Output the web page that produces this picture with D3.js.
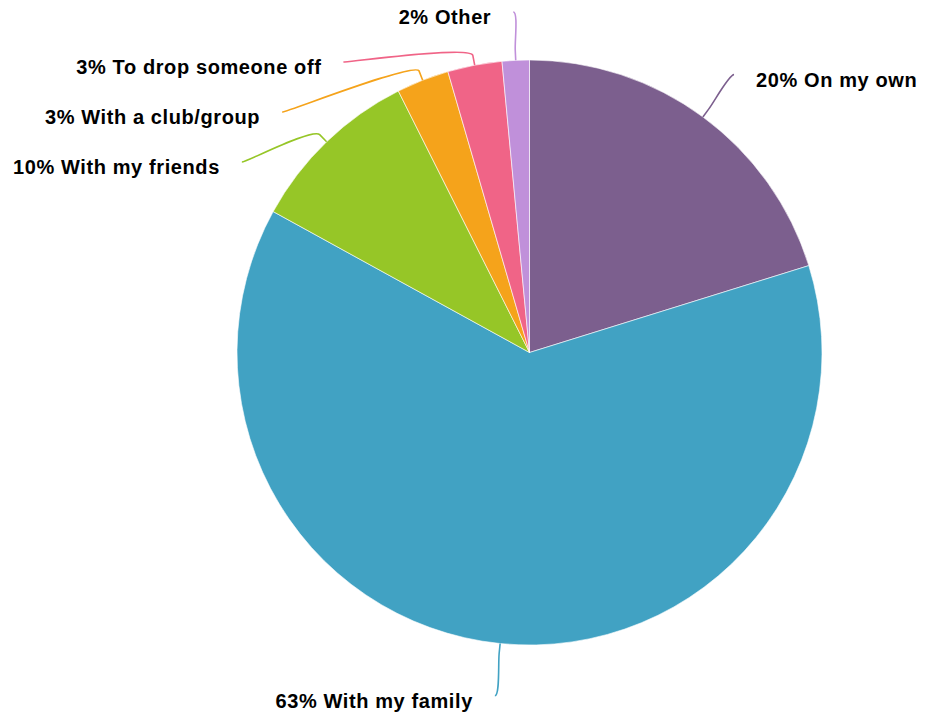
<!DOCTYPE html>
<html>
<head>
<meta charset="utf-8">
<script src="https://cdn.jsdelivr.net/npm/d3@7"></script>
<style>
  html, body { margin: 0; padding: 0; background: #fff; }
  svg { display: block; }
  .slice-label { font-family: "Liberation Sans", Arial, Helvetica, sans-serif; font-weight: bold; font-size: 20px; letter-spacing: 0.6px; fill: #000; }
</style>
</head>
<body>
<svg id="chart" width="926" height="712"></svg>
<script>
const categories = ['On my own', 'With my family', 'With my friends', 'With a club/group', 'To drop someone off', 'Other'];
const shares = [20.2, 62.8, 9.6, 2.9, 3.0, 1.5];
const colors = ['#7c5f8e', '#41a2c3', '#96c627', '#f5a31b', '#f06487', '#c090da'];

const WIDTH = 926;
const HEIGHT = 712;
const CX = 529.5;
const CY = 352.5;
const RADIUS = 292.5;
const LABEL_RADIUS = 345;
const BREAK_OFFSET = 10;
const LABEL_SPACING = 50;
const LABEL_TOP = 12;
const TEXT_GAP = 22;

const data = categories.map((name, i) => ({ name, value: shares[i], color: colors[i] }));

const svg = d3.select('#chart');
const g = svg.append('g').attr('transform', `translate(${CX},${CY})`);

const pie = d3.pie().sort(null).value((d) => d.value);
const arcs = pie(data);
const arc = d3.arc().innerRadius(0).outerRadius(RADIUS);

g.selectAll('path.slice')
  .data(arcs)
  .join('path')
  .attr('class', 'slice')
  .attr('d', arc)
  .attr('fill', (d) => d.data.color)
  .attr('stroke', '#fff')
  .attr('stroke-width', 0.6);

// point at radius r along angle a (d3 angle: 0 at top, clockwise)
function polar(a, r) {
  return { x: Math.sin(a) * r, y: -Math.cos(a) * r };
}

const labels = arcs.map((d) => {
  const mid = (d.startAngle + d.endAngle) / 2;
  const natural = polar(mid, LABEL_RADIUS);
  return {
    arc: d,
    mid,
    left: natural.x < 0,
    naturalX: natural.x,
    naturalY: natural.y,
    y: natural.y
  };
});

// push overlapping labels downwards on each side
[true, false].forEach((side) => {
  const group = labels.filter((l) => l.left === side).sort((a, b) => a.naturalY - b.naturalY);
  let prev = -Infinity;
  group.forEach((l) => {
    l.y = Math.max(l.naturalY, prev + LABEL_SPACING, LABEL_TOP - CY);
    prev = l.y;
    const moved = Math.abs(l.y - l.naturalY) > 8;
    if (moved) {
      const dx = Math.sqrt(Math.max(LABEL_RADIUS * LABEL_RADIUS - l.y * l.y, 0));
      l.x = side ? -dx : dx;
    } else {
      l.x = l.naturalX;
    }
  });
});

function connectorPath(l) {
  const touch = polar(l.mid, RADIUS);
  const brk = polar(l.mid, RADIUS + BREAK_OFFSET);
  const c1x = l.x + (l.left ? 5 : -5);
  return `M${l.x},${l.y}C${c1x},${l.y} ${2 * brk.x - touch.x},${2 * brk.y - touch.y} ${brk.x},${brk.y}L${touch.x},${touch.y}`;
}

g.selectAll('path.connector')
  .data(labels)
  .join('path')
  .attr('class', 'connector')
  .attr('d', connectorPath)
  .attr('fill', 'none')
  .attr('stroke', (l) => l.arc.data.color)
  .attr('stroke-width', 1.6);

g.selectAll('text.slice-label')
  .data(labels)
  .join('text')
  .attr('class', 'slice-label')
  .attr('x', (l) => l.x + (l.left ? -TEXT_GAP : TEXT_GAP))
  .attr('y', (l) => l.y + 5)
  .attr('dy', '0.35em')
  .attr('text-anchor', (l) => (l.left ? 'end' : 'start'))
  .text((l) => `${Math.round(l.arc.data.value)}% ${l.arc.data.name}`);
</script>
</body>
</html>
